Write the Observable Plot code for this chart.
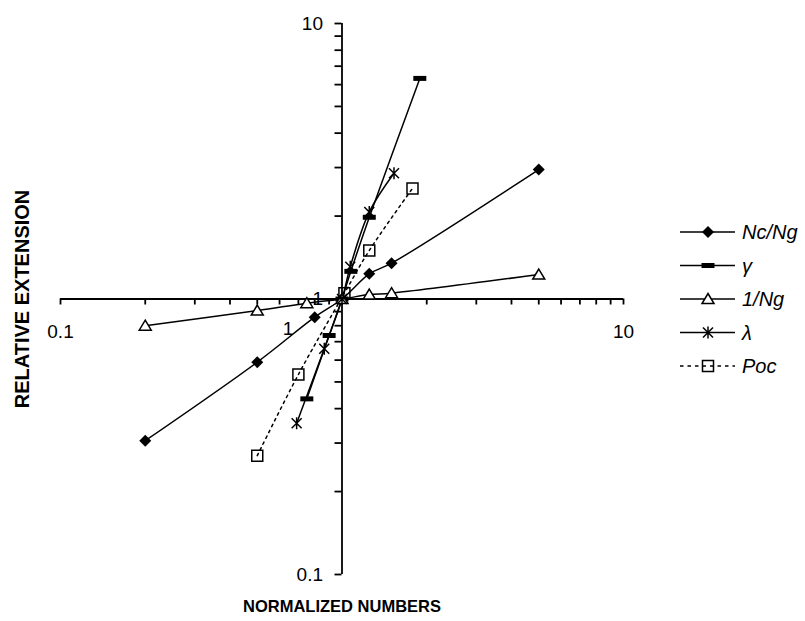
<!DOCTYPE html>
<html><head><meta charset="utf-8">
<script src="https://cdn.jsdelivr.net/npm/d3@7"></script>
<script src="https://cdn.jsdelivr.net/npm/@observablehq/plot@0.6"></script>
<style>
body{margin:0;background:#fff;}
#wrap{position:relative;width:805px;height:621px;font-family:Arial,"Liberation Sans",sans-serif;}
#legend{position:absolute;left:0;top:0;pointer-events:none;}
</style></head><body><div id="wrap"></div>
<script>
// ---- data ----
const seriesNames = ["Nc/Ng", "γ", "1/Ng", "λ", "Poc"];
const ncngX   = [0.2, 0.5, 0.8, 1, 1.25, 1.5, 5];
const ncngY   = [0.306, 0.59, 0.859, 1, 1.234, 1.349, 2.95];
const gammaX  = [0.75, 0.9, 1, 1.075, 1.25, 1.89];
const gammaY  = [0.434, 0.737, 1, 1.26, 1.98, 6.32];
const invNgX  = [0.2, 0.5, 0.75, 1, 1.25, 1.5, 5];
const invNgY  = [0.80, 0.908, 0.966, 1, 1.038, 1.05, 1.227];
const lambdaX = [0.69, 0.865, 1, 1.07, 1.25, 1.53];
const lambdaY = [0.354, 0.66, 1, 1.31, 2.07, 2.86];
const pocX    = [0.5, 0.7, 1.02, 1.25, 1.78];
const pocY    = [0.27, 0.532, 1.05, 1.5, 2.52];
const xTicks = [0.1,0.2,0.3,0.4,0.5,0.6,0.7,0.8,0.9,1,2,3,4,5,6,7,8,9,10];
const yTicks = [0.1,0.2,0.3,0.4,0.5,0.6,0.7,0.8,0.9,1,2,3,4,5,6,7,8,9,10];
const xLabels = ["0.1", "10"];
const xCenterLabel = ["1"];
const yLabels = ["0.1", "1", "10"];
const xTitle = "NORMALIZED NUMBERS";
const yTitle = "RELATIVE EXTENSION";

// ---- layout ----
const W = 805, H = 621, ML = 60, MR = 182, MT = 23, MB = 47;
const plotW = W - ML - MR, plotH = H - MT - MB;

// ---- marker symbols ----
const diamondSym = {draw(c){const r=6;c.moveTo(0,-r);c.lineTo(r,0);c.lineTo(0,r);c.lineTo(-r,0);c.closePath();}};
const barSym = {draw(c){c.rect(-6.5,-2.5,13,5);}};
const triSym = {draw(c){c.moveTo(0,-5.5);c.lineTo(6,4.5);c.lineTo(-6,4.5);c.closePath();}};
const asterSym = {draw(c){c.moveTo(0,-6);c.lineTo(0,6);c.moveTo(-5,-5);c.lineTo(5,5);c.moveTo(-5,5);c.lineTo(5,-5);}};
const squareSym = {draw(c){c.rect(-5.5,-5.5,11,11);}};

const series = [
  {name: seriesNames[0], xs: ncngX, ys: ncngY, sym: diamondSym, fill: "black", stroke: "none", dash: null},
  {name: seriesNames[1], xs: gammaX, ys: gammaY, sym: barSym, fill: "black", stroke: "none", dash: null},
  {name: seriesNames[2], xs: invNgX, ys: invNgY, sym: triSym, fill: "white", stroke: "black", dash: null},
  {name: seriesNames[3], xs: lambdaX, ys: lambdaY, sym: asterSym, fill: "none", stroke: "black", dash: null},
  {name: seriesNames[4], xs: pocX, ys: pocY, sym: squareSym, fill: "none", stroke: "black", dash: "2.5,4"}
];

const fmt = labels => d => { const s = String(d); return labels.includes(s) ? s : ""; };

const marks = [
  Plot.ruleY([1], {stroke: "black", strokeWidth: 1.8}),
  Plot.ruleX([1], {stroke: "black", strokeWidth: 1.8}),
  Plot.axisY(yTicks, {anchor: "left", dx: plotW / 2, tickSize: 7, tickPadding: 12, strokeWidth: 1.8,
    tickFormat: fmt(yLabels), label: null, fontSize: 19}),
  Plot.axisX(xTicks, {anchor: "bottom", dy: -plotH / 2, tickSize: 6, tickPadding: 19, strokeWidth: 1.8,
    tickFormat: fmt(xLabels), label: null, fontSize: 19}),
  Plot.axisX(xCenterLabel.map(Number), {anchor: "bottom", dy: -plotH / 2, dx: -54, tickSize: 0, tickPadding: 22,
    tickFormat: d => String(d), label: null, fontSize: 19}),
  Plot.text([xTitle], {text: d => d, frameAnchor: "bottom", dy: 37, fontWeight: "bold", fontSize: 16.5}),
  Plot.text([yTitle], {text: d => d, frameAnchor: "left", textAnchor: "middle", dx: -38, rotate: -90,
    fontWeight: "bold", fontSize: 20})
];

for (const s of series) {
  const data = s.xs.map((x, i) => ({x, y: s.ys[i]}));
  marks.push(Plot.line(data, {x: "x", y: "y", stroke: "black", strokeWidth: 1.5, curve: "catmull-rom",
    strokeDasharray: s.dash}));
}
for (const s of series) {
  const data = s.xs.map((x, i) => ({x, y: s.ys[i]}));
  marks.push(Plot.dot(data, {x: "x", y: "y", symbol: s.sym, r: 5, fill: s.fill, stroke: s.stroke,
    strokeWidth: 1.5}));
}

const chart = Plot.plot({
  width: W, height: H,
  marginLeft: ML, marginRight: MR, marginTop: MT, marginBottom: MB,
  style: {fontFamily: "Arial, 'Liberation Sans', sans-serif", fontSize: "19px", background: "white", color: "black"},
  x: {type: "log", domain: [0.1, 10], axis: null},
  y: {type: "log", domain: [0.1, 10], axis: null},
  marks
});
const wrap = document.getElementById("wrap");
wrap.appendChild(chart);

// ---- legend ----
const leg = d3.select(wrap).append("svg").attr("id", "legend").attr("width", W).attr("height", H);
const lx1 = 680, lx2 = 735, mx = 708, tx = 742, ly0 = 232, lstep = 33.5;
series.forEach((s, i) => {
  const y = ly0 + i * lstep;
  const g = leg.append("g");
  g.append("line").attr("x1", lx1).attr("x2", lx2).attr("y1", y).attr("y2", y)
    .attr("stroke", "black").attr("stroke-width", 1.5).attr("stroke-dasharray", s.dash ? "3.5,4" : null);
  const p = d3.path(); s.sym.draw(p);
  g.append("path").attr("d", p.toString()).attr("transform", `translate(${mx},${y})`)
    .attr("fill", s.fill).attr("stroke", s.stroke).attr("stroke-width", 1.5);
  g.append("text").attr("x", tx).attr("y", y).attr("dy", "0.35em")
    .attr("font-family", "Arial, 'Liberation Sans', sans-serif").attr("font-size", 20)
    .attr("font-style", "italic").text(s.name);
});
</script></body></html>
